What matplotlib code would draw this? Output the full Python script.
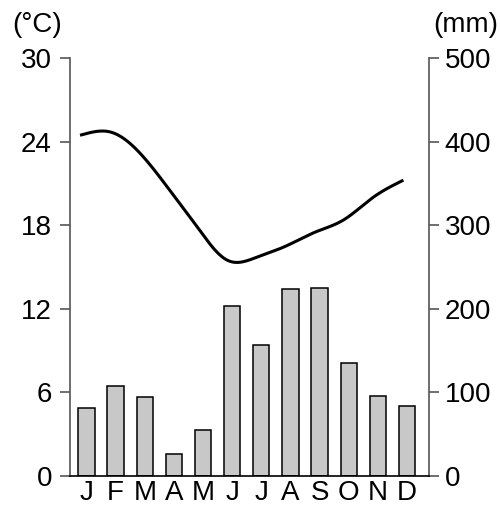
import numpy as np
import matplotlib
matplotlib.use("Agg")
import matplotlib.pyplot as plt

plt.rcParams['font.family'] = ['Liberation Sans', 'DejaVu Sans']

months = ['J', 'F', 'M', 'A', 'M', 'J', 'J', 'A', 'S', 'O', 'N', 'D']
precip_mm = [82, 108, 94, 26, 55, 203, 157, 224, 225, 135, 96, 84]
temp_c = [24.5, 24.7, 23.2, 20.6, 17.8, 15.5, 15.7, 16.5, 17.5, 18.4, 20.0, 21.2]
temp_ticks = [0, 6, 12, 18, 24, 30]
precip_ticks = [0, 100, 200, 300, 400, 500]


def natural_spline(x, y, xs):
    x = np.asarray(x, float); y = np.asarray(y, float)
    n = len(x)
    h = np.diff(x)
    A = np.zeros((n, n)); r = np.zeros(n)
    A[0, 0] = A[-1, -1] = 1
    for i in range(1, n - 1):
        A[i, i - 1] = h[i - 1]
        A[i, i] = 2 * (h[i - 1] + h[i])
        A[i, i + 1] = h[i]
        r[i] = 3 * ((y[i + 1] - y[i]) / h[i] - (y[i] - y[i - 1]) / h[i - 1])
    c = np.linalg.solve(A, r)
    b = np.zeros(n - 1); d = np.zeros(n - 1)
    for i in range(n - 1):
        b[i] = (y[i + 1] - y[i]) / h[i] - h[i] * (2 * c[i] + c[i + 1]) / 3
        d[i] = (c[i + 1] - c[i]) / (3 * h[i])
    idx = np.clip(np.searchsorted(x, xs) - 1, 0, n - 2)
    t = xs - x[idx]
    return y[idx] + b[idx] * t + c[idx] * t ** 2 + d[idx] * t ** 3


fig = plt.figure(figsize=(5.0, 5.05), dpi=100)
ax = fig.add_axes([0.14, 0.0574, 0.7186, 0.8272])
ax2 = ax.twinx()

x = np.arange(len(months))
gray = '#555555'
fs = 20

# precipitation bars on right axis
ax2.bar(x, precip_mm, width=0.56, color='#c8c8c8', edgecolor='black', linewidth=1.1, zorder=2)
ax2.set_ylim(0, 500)
ax2.set_yticks(precip_ticks)

# temperature line on left axis
xl = x - 0.17
xs = np.linspace(xl[0], xl[-1], 400)
ax.plot(xs, natural_spline(xl, temp_c, xs), color='black', lw=2.2, zorder=3)
ax.set_ylim(0, 30)
ax.set_yticks(temp_ticks)
ax.set_xlim(-0.566, 11.765)
ax.set_xticks(x)
ax.set_xticklabels(months)

ax.set_zorder(ax2.get_zorder() + 1)
ax.patch.set_visible(False)

for a in (ax, ax2):
    a.spines['top'].set_visible(False)
    for s in a.spines.values():
        s.set_color(gray)
        s.set_linewidth(1.2)

ax.spines['right'].set_visible(False)
ax2.spines['left'].set_visible(False)
ax2.spines['bottom'].set_visible(False)
ax.spines['bottom'].set_color('black')

ax.tick_params(axis='y', direction='out', length=7, width=1.2, color=gray, labelsize=fs, pad=6)
ax2.tick_params(axis='y', direction='out', length=7, width=1.2, color=gray, labelsize=fs, pad=4)
ax.tick_params(axis='x', length=0, labelsize=fs, pad=3)

fig.text(0.074, 0.950, '(°C)', ha='center', va='center', fontsize=fs)
fig.text(0.932, 0.950, '(mm)', ha='center', va='center', fontsize=fs)

fig.savefig('out.png', dpi=100)
